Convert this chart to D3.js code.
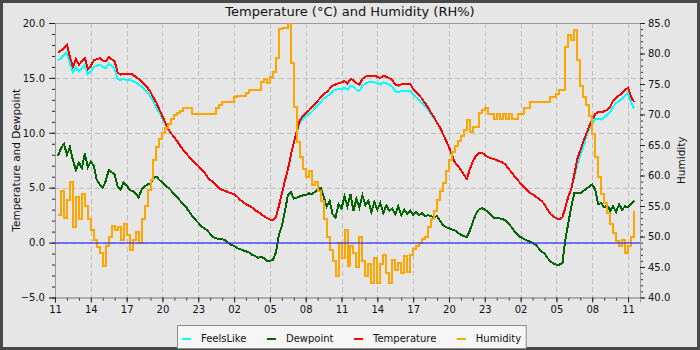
<!DOCTYPE html>
<html><head><meta charset="utf-8">
<script src="https://cdn.jsdelivr.net/npm/d3@7"></script>
<style>
html,body{margin:0;padding:0;background:#e6e6e6;}
svg{display:block;font-family:"DejaVu Sans",sans-serif;}
</style></head><body>
<svg id="chart" width="700" height="350"></svg>
<script>
// ---------------- DATA ----------------
const chartTitle = "Temperature (°C) and Humidity (RH%)";
const leftAxisTitle = "Temperature and Dewpoint";
const rightAxisTitle = "Humidity";
const seriesNames = ["FeelsLike", "Dewpoint", "Temperature", "Humidity"];
const seriesColors = ["#00ffff", "#006400", "#ff0000", "#ffa500"];

const startClockHour = 11;      // x axis starts at 11:00
const spanHours = 49;           // x axis length in hours
const firstSampleHour = 0.25;   // first sample, hours after start
const sampleStepHours = 0.25;   // sampling interval (15 min)

const tempTicks = [-5, 0, 5, 10, 15, 20];
const humidityTicks = [40, 45, 50, 55, 60, 65, 70, 75, 80, 85];
const hourTicks = [0, 3, 6, 9, 12, 15, 18, 21, 24, 27, 30, 33, 36, 39, 42, 45, 48];

const temperature = [
 17.3,17.5,17.7,18.0,16.9,16.0,16.7,16.2,
 16.5,16.8,15.8,16.1,16.6,16.7,16.8,16.6,
 16.5,16.9,16.7,16.5,15.5,15.3,15.4,15.4,
 15.4,15.3,15.1,14.9,14.7,14.4,14.1,13.7,
 13.2,12.7,12.1,11.5,10.9,10.3,9.9,9.6,
 9.2,8.8,8.4,8.1,7.8,7.5,7.2,7.0,
 6.7,6.4,6.0,5.7,5.5,5.2,4.95,4.8,
 4.7,4.6,4.5,4.4,4.2,3.9,3.7,3.5,
 3.35,3.2,2.95,2.8,2.6,2.4,2.25,2.1,
 2.05,2.3,3.3,4.45,5.6,6.6,7.95,9.1,
 10.1,11.1,11.5,11.8,12.0,12.3,12.6,12.9,
 13.2,13.5,13.7,14.0,14.3,14.4,14.5,14.6,
 14.7,14.5,14.9,14.8,14.5,14.4,14.9,15.1,
 15.2,15.2,15.2,15.1,15.0,15.2,15.1,15.0,
 14.8,14.4,14.3,14.4,14.45,14.45,14.45,14.0,
 13.7,13.4,13.1,12.7,12.3,11.8,11.4,10.9,
 10.5,9.9,9.3,8.7,8.0,7.3,7.0,6.6,
 6.2,5.8,6.7,7.4,7.9,8.15,8.2,8.0,
 7.8,7.7,7.6,7.5,7.4,7.3,7.1,6.7,
 6.4,6.0,5.7,5.4,5.1,4.8,4.55,4.4,
 4.2,4.0,3.8,3.5,3.0,2.6,2.4,2.2,
 2.15,2.3,3.2,4.2,4.9,6.2,7.6,8.4,
 9.2,9.9,10.6,11.2,11.7,11.9,11.9,11.95,
 12.1,12.4,12.9,13.2,13.4,13.6,13.9,14.1,
 13.3,12.8
];

const feelsLike = [
 16.6,16.8,17.1,17.3,16.3,15.5,16.0,15.6,
 15.9,16.2,15.3,15.6,16.0,16.1,16.2,16.0,
 15.9,16.3,16.1,15.8,14.9,14.8,14.9,14.8,
 14.8,14.7,14.6,14.4,14.2,13.9,13.7,13.3,
 12.8,12.3,11.8,11.3,10.8,10.3,9.9,9.6,
 9.2,8.8,8.4,8.1,7.8,7.5,7.2,7.0,
 6.7,6.4,6.0,5.7,5.5,5.2,4.95,4.8,
 4.7,4.6,4.5,4.4,4.2,3.9,3.7,3.5,
 3.35,3.2,2.95,2.8,2.6,2.4,2.25,2.1,
 2.05,2.3,3.3,4.45,5.6,6.6,7.95,9.1,
 10.0,10.9,11.2,11.5,11.7,11.9,12.2,12.5,
 12.8,13.1,13.3,13.5,13.8,13.9,14.0,14.0,
 14.1,13.9,14.3,14.2,13.9,13.8,14.3,14.5,
 14.6,14.6,14.6,14.5,14.4,14.6,14.5,14.4,
 14.2,13.8,13.7,13.8,13.85,13.85,13.85,13.5,
 13.2,13.0,12.7,12.4,12.1,11.7,11.3,10.9,
 10.5,9.9,9.3,8.7,8.0,7.3,7.0,6.6,
 6.2,5.8,6.7,7.4,7.9,8.15,8.2,8.0,
 7.8,7.7,7.6,7.5,7.4,7.3,7.1,6.7,
 6.4,6.0,5.7,5.4,5.1,4.8,4.55,4.4,
 4.2,4.0,3.8,3.5,3.0,2.6,2.4,2.2,
 2.15,2.3,3.2,4.2,4.9,6.0,7.1,7.9,
 8.7,9.7,10.3,10.8,11.3,11.3,11.2,11.4,
 11.6,11.9,12.4,12.7,12.9,13.1,13.4,13.6,
 12.8,12.2
];

const dewpoint = [
 7.9,8.6,9.0,8.0,8.7,7.5,6.6,7.3,
 6.8,8.1,6.9,7.4,7.0,5.7,5.3,5.0,
 5.6,6.6,6.4,6.2,5.1,4.8,5.5,5.2,
 4.8,4.7,4.5,4.1,4.8,5.1,5.3,5.4,
 5.9,6.0,5.7,5.5,5.2,5.0,4.7,4.4,
 4.1,3.8,3.5,3.2,2.8,2.4,2.1,1.8,
 1.5,1.3,1.1,0.8,0.5,0.4,0.3,0.3,
 0.2,0.0,-0.2,-0.3,-0.5,-0.6,-0.7,-0.8,
 -0.9,-1.1,-1.2,-1.4,-1.3,-1.4,-1.7,-1.65,
 -1.6,-0.9,0.7,1.5,2.8,4.3,4.6,4.0,
 4.1,4.2,4.3,4.3,4.5,4.4,4.6,4.8,
 5.0,4.2,3.3,3.8,2.6,2.3,3.5,3.1,
 4.2,3.3,4.4,2.9,4.0,3.2,4.3,3.4,
 3.8,2.8,3.7,3.0,3.6,2.7,3.4,2.9,
 3.1,2.6,3.3,2.5,3.0,2.6,2.9,2.5,
 2.8,2.5,2.7,2.4,2.5,2.4,2.3,2.4,
 2.0,1.6,1.4,1.3,1.2,1.1,0.9,0.7,
 0.6,0.5,1.1,1.9,2.6,3.0,3.15,3.0,
 2.8,2.5,2.25,2.2,2.2,2.15,2.0,1.7,
 1.4,1.0,0.7,0.5,0.35,0.2,0.1,0.0,
 -0.2,-0.5,-0.8,-1.0,-1.4,-1.7,-1.9,-2.0,
 -2.0,-1.9,0.3,1.8,3.3,4.5,4.5,4.5,
 4.7,4.9,5.1,5.3,4.8,3.5,3.6,3.2,
 3.4,2.9,3.3,2.8,3.5,3.0,3.3,3.2,
 3.5,3.8
];

const humidity = [
 53.5,57.5,53.0,56.0,59.0,51.5,56.5,52.8,
 57.0,55.0,52.8,51.0,49.5,48.3,47.3,45.1,
 48.4,50.0,51.7,51.1,51.5,49.5,52.0,50.3,
 47.8,49.5,50.8,49.0,52.8,55.0,57.7,59.3,
 62.6,64.7,66.0,67.0,67.8,68.5,69.2,69.9,
 70.2,70.6,71.0,71.0,71.0,70.1,70.1,70.1,
 70.1,70.1,70.1,70.1,70.1,71.0,71.5,72.1,
 72.1,72.1,72.1,72.8,73.0,73.0,73.0,73.5,
 74.0,74.0,74.0,74.0,75.4,75.9,75.1,76.2,
 77.0,79.3,84.0,84.1,84.1,85.5,78.5,71.2,
 65.5,63.0,61.0,59.8,60.8,58.5,59.0,57.5,
 55.8,52.8,50.0,47.8,46.0,43.5,48.9,46.5,
 51.1,45.1,48.5,47.3,45.0,50.0,46.0,43.5,
 45.5,42.4,46.5,42.4,45.5,47.0,44.0,42.4,
 46.2,44.5,45.7,44.0,46.8,44.2,47.0,47.9,
 48.4,49.0,49.6,50.0,51.5,52.8,54.2,56.0,
 57.4,58.8,60.7,62.5,63.8,64.9,65.6,66.4,
 67.4,69.1,67.2,68.0,68.0,70.2,70.8,71.1,
 70.1,70.1,69.3,70.1,69.3,70.1,69.3,70.1,
 69.3,69.3,70.1,70.1,71.0,71.0,72.1,72.1,
 72.1,72.1,72.1,72.1,72.1,72.9,72.9,73.3,
 74.0,74.0,81.1,83.0,82.2,83.9,79.0,74.6,
 72.9,71.6,69.8,66.8,63.1,59.8,57.0,55.5,
 53.8,52.0,50.5,49.2,48.4,49.5,47.3,48.4,
 50.0,54.1
];

// ---------------- DRAWING ----------------
const svg = d3.select("#chart");
const plot = { left: 55, right: 640, top: 23, bottom: 297.5 };

const x = d3.scaleLinear().domain([0, spanHours]).range([plot.left, plot.right]);
const yT = d3.scaleLinear().domain([-5, 20]).range([plot.bottom, plot.top]);
const yH = d3.scaleLinear().domain([40, 85]).range([plot.bottom, plot.top]);
const sampleHour = i => firstSampleHour + i * sampleStepHours;

// background + outer frame
svg.append("rect").attr("x", 0).attr("y", 0).attr("width", 700).attr("height", 350).attr("fill", "#e6e6e6");
svg.append("rect").attr("x", 1.5).attr("y", 1.5).attr("width", 697).attr("height", 347)
  .attr("fill", "none").attr("stroke", "#484848").attr("stroke-width", 3);

// title
svg.append("text").attr("x", 350).attr("y", 16).attr("text-anchor", "middle")
  .attr("font-size", 13).attr("fill", "#111").text(chartTitle);

// grid
const grid = svg.append("g").attr("stroke", "#bcbcbc").attr("stroke-width", 1).attr("stroke-dasharray", "5,3");
grid.selectAll("line.v").data(hourTicks.filter(h => h > 0)).join("line")
  .attr("x1", d => Math.round(x(d)) + 0.5).attr("x2", d => Math.round(x(d)) + 0.5)
  .attr("y1", plot.top).attr("y2", plot.bottom);
grid.selectAll("line.h").data(tempTicks.filter(t => t > -5 && t < 20)).join("line")
  .attr("x1", plot.left).attr("x2", plot.right)
  .attr("y1", d => Math.round(yT(d)) + 0.5).attr("y2", d => Math.round(yT(d)) + 0.5);

// frame top
svg.append("line").attr("x1", plot.left).attr("x2", plot.right)
  .attr("y1", Math.round(plot.top) + 0.5).attr("y2", Math.round(plot.top) + 0.5)
  .attr("stroke", "#9a9a9a");

// axes
function styleAxis(g) {
  g.attr("font-family", "DejaVu Sans, sans-serif").attr("font-size", 10).attr("color", "#222");
  g.select(".domain").attr("stroke", "#9a9a9a");
  g.selectAll("text").attr("fill", "#111");
}
const fmt1 = d3.format(".1f");
const hourLabel = h => String((startClockHour + h) % 24).padStart(2, "0");

svg.append("g").attr("transform", `translate(${plot.left},0)`)
  .call(d3.axisLeft(yT).tickValues(d3.range(-5, 21)).tickSize(3).tickFormat(""))
  .call(styleAxis);
svg.append("g").attr("transform", `translate(${plot.left},0)`)
  .call(d3.axisLeft(yT).tickValues(tempTicks).tickSize(6).tickPadding(4).tickFormat(fmt1))
  .call(styleAxis);

svg.append("g").attr("transform", `translate(${plot.right},0)`)
  .call(d3.axisRight(yH).tickValues(d3.range(40, 86)).tickSize(3).tickFormat(""))
  .call(styleAxis);
svg.append("g").attr("transform", `translate(${plot.right},0)`)
  .call(d3.axisRight(yH).tickValues(humidityTicks).tickSize(5).tickPadding(3).tickFormat(fmt1))
  .call(styleAxis);

svg.append("g").attr("transform", `translate(0,${plot.bottom})`)
  .call(d3.axisBottom(x).tickValues(d3.range(0, spanHours + 1)).tickSize(3).tickFormat(""))
  .call(styleAxis);
svg.append("g").attr("transform", `translate(0,${plot.bottom})`)
  .call(d3.axisBottom(x).tickValues(hourTicks).tickSize(5).tickPadding(3).tickFormat(hourLabel))
  .call(styleAxis);

// axis titles
svg.append("text").attr("transform", `translate(20,${(plot.top + plot.bottom) / 2}) rotate(-90)`)
  .attr("text-anchor", "middle").attr("font-size", 10.5).attr("fill", "#111").text(leftAxisTitle);
svg.append("text").attr("transform", `translate(684.5,${(plot.top + plot.bottom) / 2}) rotate(-90)`)
  .attr("text-anchor", "middle").attr("font-size", 10.5).attr("fill", "#111").text(rightAxisTitle);

// clip
svg.append("clipPath").attr("id", "clip").append("rect")
  .attr("x", plot.left).attr("y", plot.top)
  .attr("width", plot.right - plot.left).attr("height", plot.bottom - plot.top);
const lines = svg.append("g").attr("clip-path", "url(#clip)");

const lineT = d3.line().x((d, i) => x(sampleHour(i))).y(d => yT(d));
const lineH = d3.line().x((d, i) => x(sampleHour(i))).y(d => yH(d)).curve(d3.curveStepAfter);

const seriesData = [
  { name: seriesNames[0], values: feelsLike, gen: lineT, color: seriesColors[0] },
  { name: seriesNames[1], values: dewpoint, gen: lineT, color: seriesColors[1] },
  { name: seriesNames[2], values: temperature, gen: lineT, color: seriesColors[2] },
  { name: seriesNames[3], values: humidity, gen: lineH, color: seriesColors[3] }
];
lines.selectAll("path.series").data(seriesData).join("path")
  .attr("class", "series")
  .attr("d", s => s.gen(s.values))
  .attr("fill", "none").attr("stroke", s => s.color)
  .attr("stroke-width", 2).attr("stroke-linejoin", "miter")
  .attr("shape-rendering", "crispEdges");

// zero line
lines.append("line").attr("x1", plot.left).attr("x2", plot.right)
  .attr("y1", Math.round(yT(0))).attr("y2", Math.round(yT(0)))
  .attr("stroke", "#2a2aff").attr("stroke-opacity", 0.6).attr("stroke-width", 2);

// legend
const legend = svg.append("g");
const legendBg = legend.append("rect");
let lx = 182;
const ly = 339;
seriesData.forEach((s, i) => {
  legend.append("line").attr("x1", lx).attr("x2", lx + 9).attr("y1", ly).attr("y2", ly)
    .attr("stroke", s.color).attr("stroke-width", 2);
  const t = legend.append("text").attr("x", lx + 19).attr("y", ly + 3)
    .attr("font-size", 10).attr("fill", "#111").text(s.name);
  const w = t.node().getComputedTextLength();
  lx = lx + 19 + w + (i < seriesData.length - 1 ? 20.5 : 0);
});
legendBg.attr("x", 177.5).attr("y", 325.5).attr("width", lx + 5 - 177.5).attr("height", 23)
  .attr("fill", "#f6f6f6").attr("stroke", "#8a8a8a");
</script>
</body></html>
